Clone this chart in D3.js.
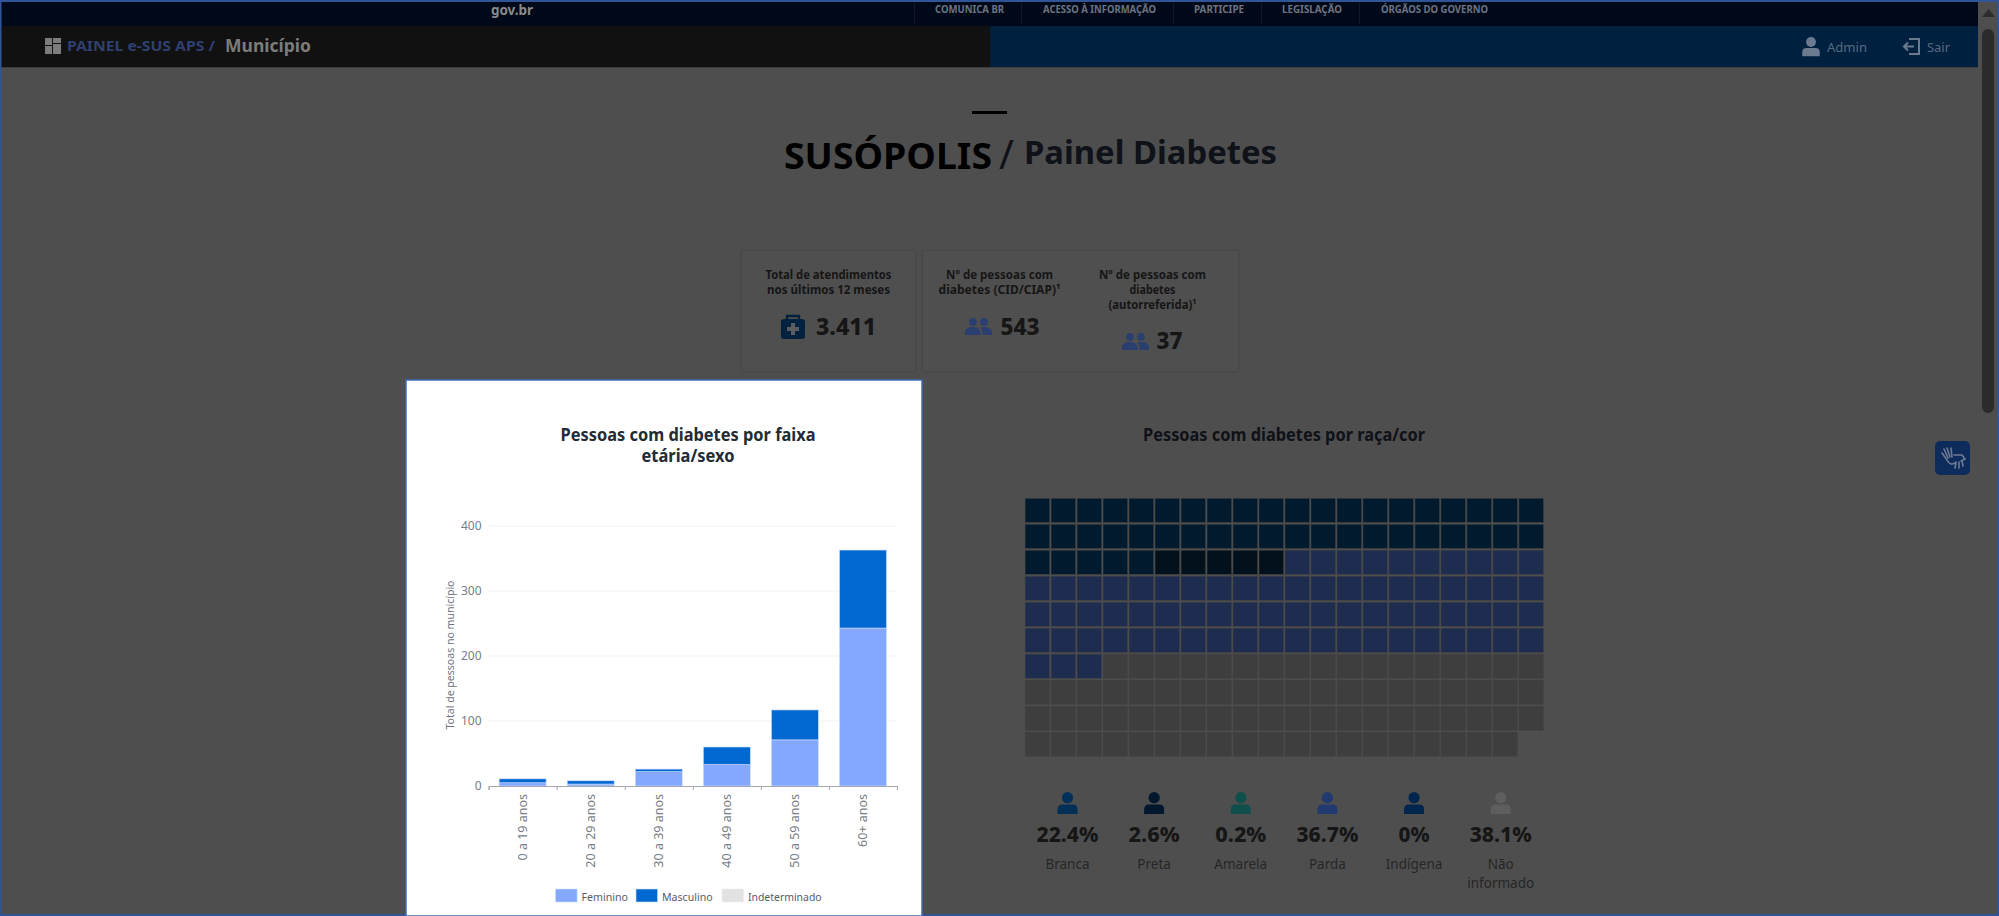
<!DOCTYPE html>
<html lang="pt-BR"><head><meta charset="utf-8"><title>Painel Diabetes</title>
<script src="https://cdn.jsdelivr.net/npm/d3@7"></script>
<style>html,body{margin:0;padding:0;background:#4e4e4e;overflow:hidden}svg{display:block;font-family:"Noto Sans",sans-serif}</style>
</head><body><svg id="c" width="1999" height="916"></svg>
<script>
// ---- data ----
const ageGroups = ["0 a 19 anos","20 a 29 anos","30 a 39 anos","40 a 49 anos","50 a 59 anos","60+ anos"];
const feminino = [5,3,22,33,71,243];
const masculino = [6,5,4,27,46,120];
const indeterminado = [0,0,0,0,0,0];
const sexSeries = ["Feminino","Masculino","Indeterminado"];
const yTicks = [0,100,200,300,400];
const racas = [["Branca"],["Preta"],["Amarela"],["Parda"],["Indígena"],["Não","informado"]];
const racaPct = ["22.4%","2.6%","0.2%","36.7%","0%","38.1%"];
const racaCells = [45,5,0,73,0,76];
const racaColors = ["#011a2e","#02111c","#0f4f4b","#1d2c4f","#00264d","#3e3e3e"];
const racaIcons = ["#003058","#00172e","#0f4f4b","#233a70","#00264d","#5e5e5e"];
const navItems = ["COMUNICA BR","ACESSO À INFORMAÇÃO","PARTICIPE","LEGISLAÇÃO","ÓRGÃOS DO GOVERNO"];
const kpiTotal = "3.411", kpiCid = "543", kpiAuto = "37";

const svg = d3.select("#c");
function T(g,x,y,s,o={}){
  const e=g.append("text").attr("x",x).attr("y",y).attr("dy",".35em").text(s)
    .attr("font-size",o.size||12).attr("font-weight",o.weight||400).attr("fill",o.fill||"#222")
    .attr("text-anchor",o.anchor||"start");
  if(o.w) e.attr("textLength",o.w).attr("lengthAdjust","spacingAndGlyphs");
  if(o.rot) e.attr("transform",`rotate(${o.rot} ${x} ${y})`);
  return e;
}
function R(g,x,y,w,h,f,o={}){return g.append("rect").attr("x",x).attr("y",y).attr("width",w).attr("height",h).attr("fill",f).attr("rx",o.rx||0).attr("stroke",o.stroke||"none");}
function person(g,cx,top,s,f){
  g.append("circle").attr("cx",cx).attr("cy",top+5.7*s).attr("r",5.6*s).attr("fill",f);
  g.append("path").attr("fill",f).attr("d",`M${cx-10*s} ${top+22*s}V${top+17.5*s}Q${cx-10*s} ${top+12.5*s} ${cx-5*s} ${top+12.5*s}H${cx+5*s}Q${cx+10*s} ${top+12.5*s} ${cx+10*s} ${top+17.5*s}V${top+22*s}Z`);
}
function people(g,x,y,f){
  [8,19].forEach(d=>g.append("circle").attr("cx",x+d).attr("cy",y+4).attr("r",3.9).attr("fill",f));
  g.append("path").attr("fill",f).attr("d",`M${x} ${y+17}V${y+14.5}Q${x} ${y+9} ${x+8} ${y+9}Q${x+14} ${y+9} ${x+15.5} ${y+14}V${y+17}Z`);
  g.append("path").attr("fill",f).attr("d",`M${x+17.5} ${y+17}V${y+13}Q${x+16.5} ${y+10.5} ${x+15} ${y+9.5}Q${x+17} ${y+9} ${x+19} ${y+9}Q${x+27} ${y+9} ${x+27} ${y+14.5}V${y+17}Z`);
}

// ---- page chrome ----
const page=svg.append("g");
R(page,0,0,1999,916,"#4e4e4e");
R(page,0,2,1978,24,"#00091a");
R(page,0,26,990,41,"#111111");
R(page,990,26,988,41,"#002040");
R(page,0,67,1978,1,"#3d3d3d");
T(page,512,10,"gov.br",{size:15,weight:700,fill:"#8a8a8a",anchor:"middle",w:42});
const navX=[935,1043,1194,1282,1381], navW=[69,113,50,60,107], navSep=[914,1021,1173,1261,1359];
navItems.forEach((n,i)=>{
  T(page,navX[i],9,n,{size:10,weight:700,fill:"#6d7480",w:navW[i]});
  R(page,navSep[i],2,1,22,"#0e1a2b");
});
[[45,38,7,7],[53,38,8,5],[45,46,7,8],[53,44,8,10]].forEach(r=>R(page,r[0],r[1],r[2],r[3],"#7d7d7d"));
T(page,67,46,"PAINEL e-SUS APS /",{size:14,weight:700,fill:"#2f4070",w:148});
T(page,225,46,"Município",{size:18,weight:700,fill:"#7c7c7c",w:86});
person(page,1811,37,.88,"#6b7a8e");
T(page,1827,47,"Admin",{size:13,fill:"#596a80",w:40});
page.append("path").attr("fill","none").attr("stroke","#6b7a8e").attr("stroke-width",2).attr("d","M1909 39H1919V54H1909M1904 46.5H1914M1908 42.5L1904 46.5L1908 50.5");
T(page,1927,47,"Sair",{size:13,fill:"#596a80",w:23});
// scrollbar
page.append("path").attr("fill","#2e2e2e").attr("d","M1982 17L1988.5 9L1995 17Z");
R(page,1982,29,12,384,"#2b2b2b",{rx:6});
// accessibility button
R(page,1935,441,35,34,"#0d2c5c",{rx:5});
page.append("path").attr("fill","none").attr("stroke","#6f7b92").attr("stroke-width",1.6).attr("stroke-linecap","round").attr("d","M1944 449L1948 458M1947 448L1950 457M1951 448L1952 457M1942 453L1947 460M1947 460Q1950 466 1955 463M1954 455H1962L1965 459L1961 461M1956 462L1955 468M1959 462L1959 468M1962 461L1963 466");
// frame
R(page,0,0,1999,2,"#2f5597");R(page,0,0,1.5,916,"#2f5597");R(page,1997,0,2,916,"#2f5597");R(page,0,914,1999,2,"#2f5597");

// heading
R(page,972,111,35,3,"#000");
T(page,784,156,"SUSÓPOLIS",{size:36,weight:700,fill:"#000",w:208});
T(page,999,155,"/",{size:40,weight:400,fill:"#0f1218"});
T(page,1024,152,"Painel Diabetes",{size:33,weight:700,fill:"#0f1218",w:253});

// KPI cards
const card=svg.append("g");
R(card,741,250,175,122,"#4f4f4f",{rx:3,stroke:"#464646"});
R(card,922,250,317,122,"#4f4f4f",{rx:3,stroke:"#464646"});
const ink="#161616";
T(card,828.5,275,"Total de atendimentos",{size:12,weight:700,fill:ink,anchor:"middle",w:126});
T(card,828.5,290,"nos últimos 12 meses",{size:12,weight:700,fill:ink,anchor:"middle",w:123});
R(card,781,319,24,20,"#00223f",{rx:3});
card.append("path").attr("fill","none").attr("stroke","#00223f").attr("stroke-width",2.4).attr("d","M787 320V316H799V320");
card.append("path").attr("fill","#5a5e63").attr("d","M791 323H795V327H799V331H795V335H791V331H787V327H791Z");
T(card,816,327,kpiTotal,{size:23,weight:800,fill:ink,w:60});
T(card,999.6,275,"Nº de pessoas com",{size:12,weight:700,fill:ink,anchor:"middle",w:107});
T(card,999.6,290,"diabetes (CID/CIAP)¹",{size:12,weight:700,fill:ink,anchor:"middle",w:122});
people(card,965,318,"#2a3f70");
T(card,1000.6,327,kpiCid,{size:23,weight:800,fill:ink,w:39});
T(card,1152.5,275,"Nº de pessoas com",{size:12,weight:700,fill:ink,anchor:"middle",w:107});
T(card,1152.5,290,"diabetes",{size:12,weight:700,fill:ink,anchor:"middle",w:46});
T(card,1152.5,305,"(autorreferida)¹",{size:12,weight:700,fill:ink,anchor:"middle",w:88});
people(card,1122,333,"#2a3f70");
T(card,1156.6,341,kpiAuto,{size:23,weight:800,fill:ink,w:26});

// ---- stacked bar chart ----
const panel=svg.append("g");
R(panel,406,380,516,536,"#fff",{stroke:"#3f6cb5"}).attr("stroke-width",1.5);
T(panel,688,435,"Pessoas com diabetes por faixa",{size:18,weight:700,fill:"#222b36",anchor:"middle",w:255});
T(panel,688,456,"etária/sexo",{size:18,weight:700,fill:"#222b36",anchor:"middle",w:93});
const x=d3.scaleBand().domain(ageGroups).range([488.6,897]).paddingInner(.31).paddingOuter(.155);
const y=d3.scaleLinear().domain([0,400]).range([786,526]);
const color=d3.scaleOrdinal().domain(sexSeries).range(["#85a8ff","#0068d1","#e2e2e2"]);
// grid & y axis
const yAxis=panel.append("g").attr("transform","translate(488.6,0)")
  .call(d3.axisLeft(y).tickValues(yTicks).tickSize(0).tickPadding(7));
yAxis.select(".domain").remove();
yAxis.selectAll("text").attr("fill","#777c86").attr("font-size",12).attr("font-family","Noto Sans");
panel.append("g").selectAll("line").data(yTicks.filter(d=>d>0)).join("line")
  .attr("x1",488.6).attr("x2",897).attr("y1",d=>y(d)).attr("y2",d=>y(d)).attr("stroke","#eef1f7").attr("stroke-width",1);
T(panel,450,655,"Total de pessoas no município",{size:11,fill:"#6f7480",anchor:"middle",rot:-90,w:149});
// bars
const rows=ageGroups.map((a,i)=>({age:a,Feminino:feminino[i],Masculino:masculino[i],Indeterminado:indeterminado[i]}));
const stacked=d3.stack().keys(sexSeries)(rows);
panel.append("g").selectAll("g").data(stacked).join("g").attr("fill",d=>color(d.key))
  .selectAll("rect").data(d=>d).join("rect")
  .attr("x",d=>x(d.data.age)).attr("width",x.bandwidth())
  .attr("y",d=>y(d[1])).attr("height",d=>y(d[0])-y(d[1]))
  .attr("stroke","#cfdcff").attr("stroke-width",d=>d[1]>d[0]?.6:0);
// x axis: ticks on band edges, labels on band centres
const edges=d3.scalePoint().domain(d3.range(ageGroups.length+1)).range(x.range());
const xTicks=panel.append("g").attr("transform","translate(0,786)")
  .call(d3.axisBottom(edges).tickSizeOuter(0).tickSize(4).tickFormat(""));
xTicks.selectAll("line,path").attr("stroke","#a3a7b0");
const xLab=panel.append("g").attr("transform","translate(0,786)").call(d3.axisBottom(x).tickSize(0).tickPadding(0));
xLab.select(".domain").remove();
xLab.selectAll("text").attr("transform","translate(0,8) rotate(-90)").attr("text-anchor","end")
  .attr("x",0).attr("y",0).attr("dy",".35em").attr("font-size",12.5).attr("font-family","Noto Sans").attr("fill","#777c86");
// legend
const legX=[555.5,636,722], legW=[46.5,50.6,73.6];
const leg=panel.append("g").selectAll("g").data(sexSeries).join("g").attr("transform",(d,i)=>`translate(${legX[i]},889)`);
leg.append("rect").attr("width",21.6).attr("height",13).attr("fill",d=>color(d)).attr("stroke",d=>d==="Indeterminado"?"#eee":"#cfdcff").attr("stroke-width",.6);
leg.append("text").attr("x",26).attr("y",7.5).attr("dy",".35em").attr("font-size",11.5).attr("fill","#555b66")
  .attr("textLength",(d,i)=>legW[i]).attr("lengthAdjust","spacingAndGlyphs").text(d=>d);

// ---- waffle ----
const wf=svg.append("g");
T(wf,1284,435,"Pessoas com diabetes por raça/cor",{size:18,weight:700,fill:"#0f1218",anchor:"middle",w:282});
const cells=racaCells.flatMap((n,i)=>d3.range(n).map(()=>i));
const cx=d3.scaleBand().domain(d3.range(20)).range([1024.4,1544.2]).paddingInner(.055).paddingOuter(.027);
const cy=d3.scaleBand().domain(d3.range(10)).range([497.5,757]).paddingInner(.07).paddingOuter(.03);
wf.append("g").selectAll("rect").data(cells).join("rect")
  .attr("x",(d,i)=>cx(i%20)).attr("y",(d,i)=>cy(Math.floor(i/20)))
  .attr("width",cx.bandwidth()).attr("height",cy.bandwidth())
  .attr("fill",d=>racaColors[d]).attr("stroke","#444").attr("stroke-width",.5);
const stat=d3.scalePoint().domain(racas.map((d,i)=>i)).range([1067.5,1500.7]);
racas.forEach((lines,i)=>{
  const c=stat(i);
  person(wf,c,792,1,racaIcons[i]);
  T(wf,c,834.5,racaPct[i],{size:21,weight:800,fill:"#161616",anchor:"middle",w:[62,51,51,62,31,62][i]});
  lines.forEach((l,k)=>T(wf,c,864+k*19,l,{size:13.5,fill:"#262626",anchor:"middle"}));
});
</script></body></html>
